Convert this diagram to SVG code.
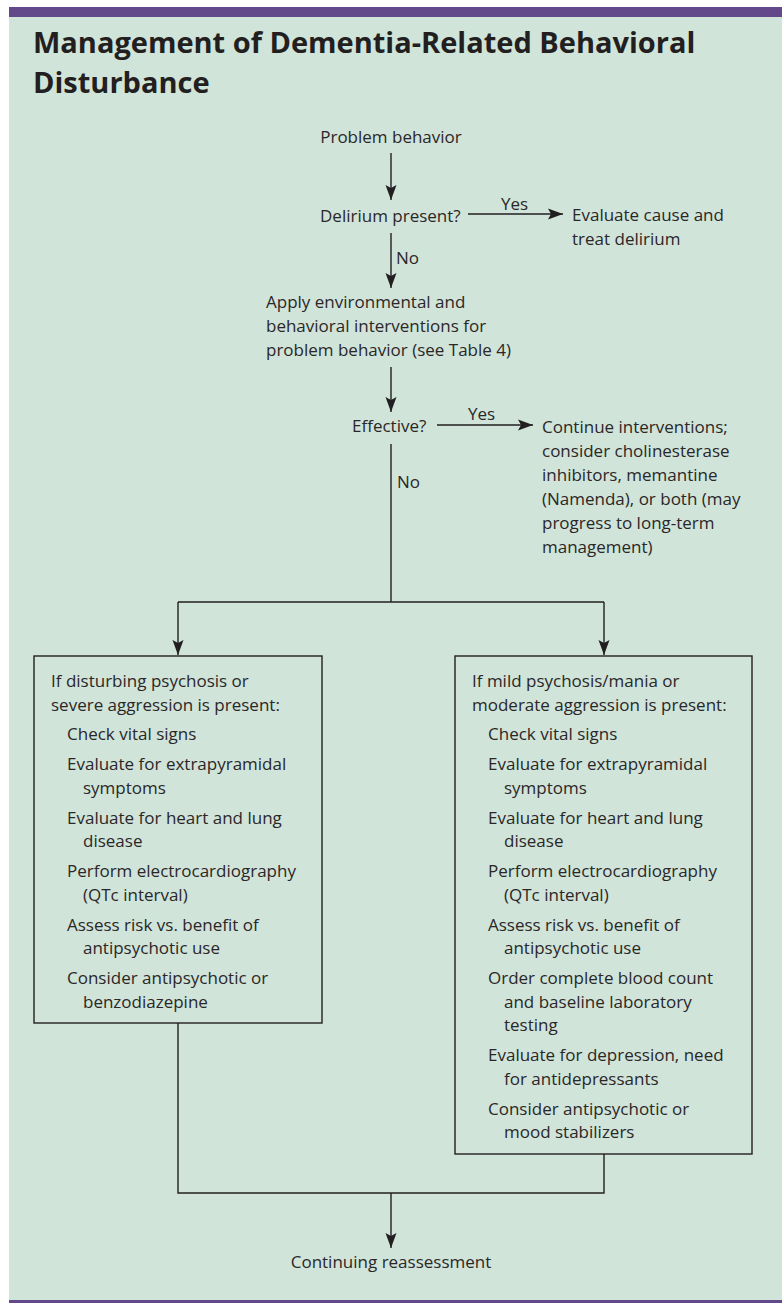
<svg xmlns="http://www.w3.org/2000/svg" width="782" height="1303" viewBox="0 0 782 1303">
<defs>
<style>
.t{font-family:"Open Sans","Noto Sans","Liberation Sans",sans-serif;font-size:17px;fill:#2b2728;}
.ttl{font-family:"Open Sans","Noto Sans","Liberation Sans",sans-serif;font-size:29px;font-weight:bold;fill:#231f20;}
.ln{fill:none;stroke:#231f20;stroke-width:1.4;}
.box{fill:none;stroke:#231f20;stroke-width:1.4;}
</style>
<marker id="ah" markerUnits="userSpaceOnUse" markerWidth="16" markerHeight="12" viewBox="-16 -6 16 12" refX="0" refY="0" orient="auto">
<path d="M0,0 L-15,-5.5 L-12,0 L-15,5.5 Z" fill="#231f20"/>
</marker>
</defs>
<rect x="0" y="0" width="782" height="1303" fill="#ffffff"/>
<rect x="9" y="17" width="773" height="1284" fill="#d0e4d9"/>
<rect x="9" y="7" width="773" height="10" fill="#63488a"/>
<rect x="9" y="1300" width="773" height="3" fill="#63488a"/>
<g id="title">
<text class="ttl" x="33" y="53">Management of Dementia-Related Behavioral</text>
<text class="ttl" x="33" y="93">Disturbance</text>
</g>
<g id="connectors">
<line class="ln" x1="391" y1="153" x2="391" y2="200" marker-end="url(#ah)"/>
<line class="ln" x1="468" y1="214" x2="563" y2="214" marker-end="url(#ah)"/>
<text class="t" x="501" y="210">Yes</text>
<line class="ln" x1="391" y1="233" x2="391" y2="288" marker-end="url(#ah)"/>
<text class="t" x="396" y="264">No</text>
<line class="ln" x1="391" y1="367" x2="391" y2="412" marker-end="url(#ah)"/>
<line class="ln" x1="437" y1="425" x2="533" y2="425" marker-end="url(#ah)"/>
<text class="t" x="468" y="420">Yes</text>
<polyline class="ln" points="391,444 391,602"/>
<text class="t" x="397" y="488">No</text>
<polyline class="ln" points="178,602 604,602"/>
<line class="ln" x1="178" y1="602" x2="178" y2="655" marker-end="url(#ah)"/>
<line class="ln" x1="604" y1="602" x2="604" y2="655" marker-end="url(#ah)"/>
<polyline class="ln" points="178,1023 178,1193 604,1193 604,1154"/>
<line class="ln" x1="391" y1="1193" x2="391" y2="1248" marker-end="url(#ah)"/>
</g>
<g id="n-problem"><text class="t" x="391" y="143" text-anchor="middle">Problem behavior</text></g>
<g id="n-delirium"><text class="t" x="320" y="222">Delirium present?</text></g>
<g id="n-evaluate"><text class="t" x="572" y="221">Evaluate cause and</text><text class="t" x="572" y="245">treat delirium</text></g>
<g id="n-apply"><text class="t" x="266" y="308">Apply environmental and</text><text class="t" x="266" y="332">behavioral interventions for</text><text class="t" x="266" y="356">problem behavior (see Table 4)</text></g>
<g id="n-effective"><text class="t" x="352" y="432">Effective?</text></g>
<g id="n-continue">
<text class="t" x="542" y="433">Continue interventions;</text>
<text class="t" x="542" y="457">consider cholinesterase</text>
<text class="t" x="542" y="481">inhibitors, memantine</text>
<text class="t" x="542" y="505">(Namenda), or both (may</text>
<text class="t" x="542" y="529">progress to long-term</text>
<text class="t" x="542" y="553">management)</text>
</g>
<g id="n-left">
<rect class="box" x="34" y="656" width="288" height="367"/>
<text class="t" x="51" y="687">If disturbing psychosis or</text>
<text class="t" x="51" y="711">severe aggression is present:</text>
<text class="t" x="67" y="740">Check vital signs</text>
<text class="t" x="67" y="770">Evaluate for extrapyramidal</text>
<text class="t" x="83" y="793.5">symptoms</text>
<text class="t" x="67" y="823.5">Evaluate for heart and lung</text>
<text class="t" x="83" y="847">disease</text>
<text class="t" x="67" y="877">Perform electrocardiography</text>
<text class="t" x="83" y="900.5">(QTc interval)</text>
<text class="t" x="67" y="930.5">Assess risk vs. benefit of</text>
<text class="t" x="83" y="954">antipsychotic use</text>
<text class="t" x="67" y="984">Consider antipsychotic or</text>
<text class="t" x="83" y="1007.5">benzodiazepine</text>
</g>
<g id="n-right">
<rect class="box" x="455" y="656" width="297" height="498"/>
<text class="t" x="472" y="687">If mild psychosis/mania or</text>
<text class="t" x="472" y="711">moderate aggression is present:</text>
<text class="t" x="488" y="740">Check vital signs</text>
<text class="t" x="488" y="770">Evaluate for extrapyramidal</text>
<text class="t" x="504" y="793.5">symptoms</text>
<text class="t" x="488" y="823.5">Evaluate for heart and lung</text>
<text class="t" x="504" y="847">disease</text>
<text class="t" x="488" y="877">Perform electrocardiography</text>
<text class="t" x="504" y="900.5">(QTc interval)</text>
<text class="t" x="488" y="930.5">Assess risk vs. benefit of</text>
<text class="t" x="504" y="954">antipsychotic use</text>
<text class="t" x="488" y="984">Order complete blood count</text>
<text class="t" x="504" y="1007.5">and baseline laboratory</text>
<text class="t" x="504" y="1031">testing</text>
<text class="t" x="488" y="1061">Evaluate for depression, need</text>
<text class="t" x="504" y="1084.5">for antidepressants</text>
<text class="t" x="488" y="1114.5">Consider antipsychotic or</text>
<text class="t" x="504" y="1138">mood stabilizers</text>
</g>
<g id="n-reassess"><text class="t" x="391" y="1268" text-anchor="middle">Continuing reassessment</text></g>
</svg>
